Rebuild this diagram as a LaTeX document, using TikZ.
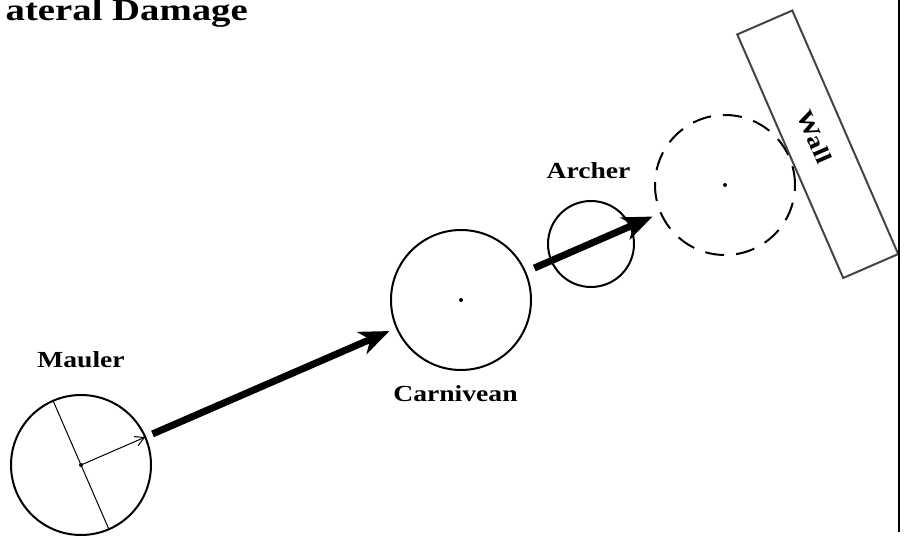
\documentclass[tikz,border=0pt]{standalone}
\usepackage{graphicx}
\usepackage{fontspec}
\setmainfont{Liberation Serif}
\usetikzlibrary{arrows.meta,calc}
\definecolor{wallgray}{HTML}{444444}
\newcommand{\widetext}[2]{\scalebox{#1}[1]{#2}}
\begin{document}
\begin{tikzpicture}[x=1pt,y=1pt,
  ring/.style={circle, draw, line width=2pt, inner sep=0pt, outer sep=0pt},
  lbl/.style={font=\fontsize{23}{23}\selectfont\bfseries, inner sep=0pt, anchor=base},
  push/.style={line width=7pt, -{Stealth[length=30pt,width=24pt,inset=9pt]}},
  cdot/.style={circle, fill, inner sep=0pt, minimum size=4pt}]
\useasboundingbox (0,0) rectangle (906,536);
% title
\node[font=\fontsize{31}{31}\selectfont\bfseries, anchor=base east, inner sep=0pt] (title) at (248,515) {\widetext{1.25}{ateral Damage}};
% circles
\node[ring, minimum size=140pt] (mauler) at (81,71) {};
\node[ring, minimum size=140pt] (carn) at (461,236) {};
\node[ring, minimum size=86pt] (archer) at (591,292) {};
\node[ring, minimum size=140pt, dash pattern=on 19pt off 12pt] (ghost) at (725,351) {};
% centre dots
\node[cdot] (mdot) at (mauler.center) {};
\node[cdot] (cdot1) at (carn.center) {};
\node[cdot] (gdot) at (ghost.center) {};
% labels
\node[lbl] (mlabel) at (81,168) {\widetext{1.2}{Mauler}};
\node[lbl] (clabel) at (455.5,134) {\widetext{1.2}{Carnivean}};
\node[lbl] (alabel) at (588.5,357) {\widetext{1.2}{Archer}};
% wall
\node[draw=wallgray, line width=2pt, rotate=-66.5, minimum width=265.6pt, minimum height=60pt, inner sep=0pt, font=\fontsize{23}{23}\selectfont\bfseries] (wall) at (817.75,391.75) {\widetext{1.2}{Wall}\rule{16pt}{0pt}};
% mauler inner lines
\coordinate (mtip) at ($(mauler.center)!70pt!(carn.center)$);
\coordinate (dtop) at ($(mauler.center)!70pt!90:(carn.center)$);
\coordinate (dbot) at ($(mauler.center)!70pt!-90:(carn.center)$);
\draw[line width=1pt] (dtop) -- (dbot);
\draw[line width=1pt, -{Straight Barb[length=9pt,width=10pt]}] (mauler.center) -- (mtip);
% thick arrows
\draw[push, shorten <=8pt, shorten >=8pt] (mauler) -- (carn);
\draw[push, shorten <=10pt, shorten >=9pt] (carn) -- (ghost);
% right border
\coordinate (rt) at (899,536);
\coordinate (rb) at (899,4);
\draw[line width=2.5pt] (rt) -- (rb);
\end{tikzpicture}
\end{document}
